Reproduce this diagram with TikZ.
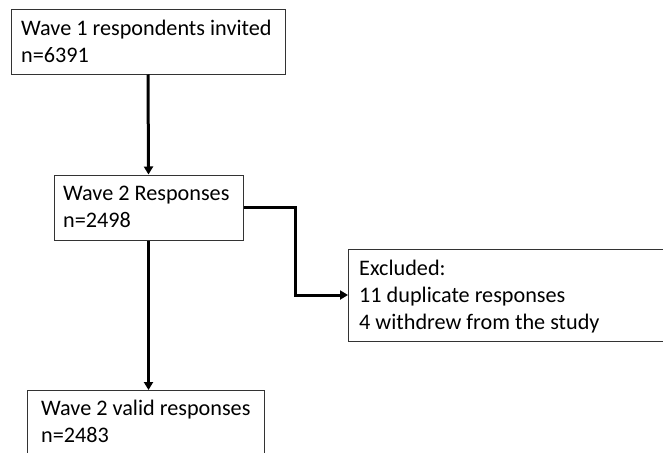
\documentclass[tikz,border=0pt]{standalone}
\usepackage{fontspec}
\setmainfont{Carlito}
\usetikzlibrary{arrows.meta}
\begin{document}
\begin{tikzpicture}[x=1pt,y=-1pt,
  box/.style={draw=black!80, line width=1pt, inner sep=0pt, fill=white},
  txt/.style={anchor=base west, inner sep=0pt,
    font=\fontsize{22.2}{27}\selectfont},
  flow/.style={line width=3pt, -{Triangle[length=8pt,width=9pt]}}]
\useasboundingbox (0,0) rectangle (663,452);
\clip (0,0) rectangle (663,452);
\fill[white] (0,0) rectangle (663,452);

% boxes
\node[box, minimum width=274pt, minimum height=64pt] (b1) at (148,42) {};
\node[box, minimum width=189pt, minimum height=65pt] (b2) at (148.5,207.5) {};
\node[box, minimum width=340pt, minimum height=92pt, anchor=north west] (b3) at (348,249) {};
\node[box, minimum width=237pt, minimum height=90pt, anchor=north west] (b4) at (27,390) {};

% texts
\node[txt] (t1) at (21,36) {\begin{tabular}[t]{@{}l@{}}Wave 1 respondents invited\\ n=6391\end{tabular}};
\node[txt] (t2) at (63,200) {\begin{tabular}[t]{@{}l@{}}Wave 2 Responses\\ n=2498\end{tabular}};
\node[txt] (t3) at (359,275) {\begin{tabular}[t]{@{}l@{}}Excluded:\\ 11 duplicate responses\\ 4 withdrew from the study\end{tabular}};
\node[txt] (t4) at (41,415) {\begin{tabular}[t]{@{}l@{}}Wave 2 valid responses\\ n=2483\end{tabular}};

% connectors
\coordinate (elbow) at (295,295);
\draw[flow] (b1.south) -- (b2.north);
\draw[flow] (b2.south) -- (b2.south |- b4.north);
\draw[flow] (b2.east) -| (elbow) -- (elbow -| b3.west);
\end{tikzpicture}
\end{document}
